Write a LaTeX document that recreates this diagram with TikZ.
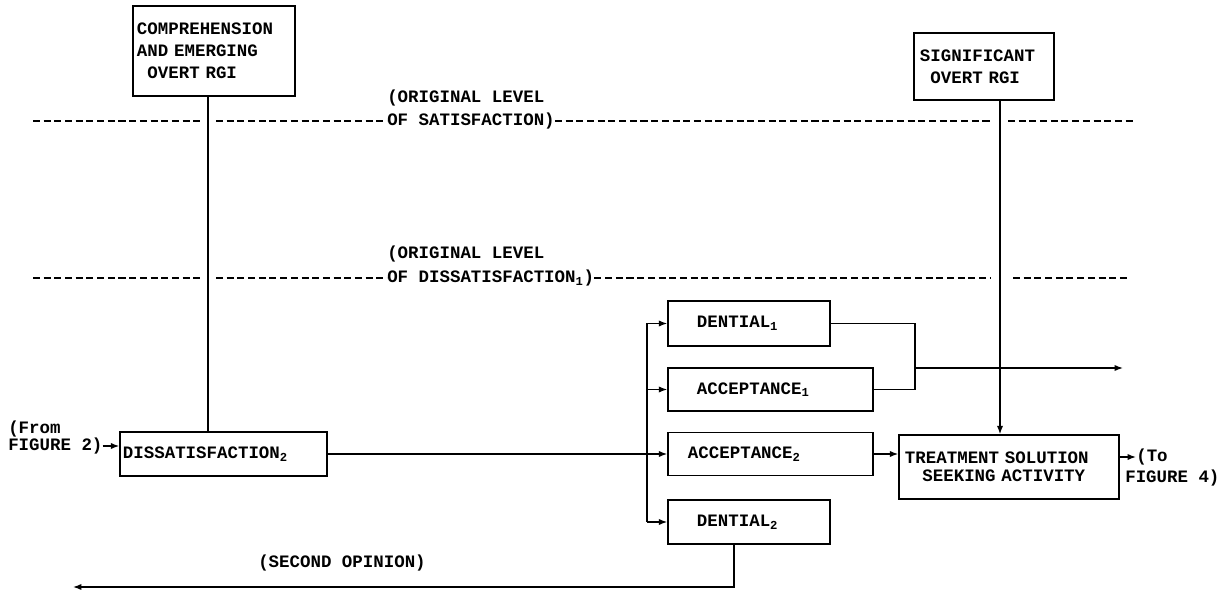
\documentclass[tikz,border=0pt]{standalone}
\usepackage{fontspec}
\setmainfont{Liberation Mono}
\usetikzlibrary{arrows.meta}
\newcommand{\tyfont}[1]{\bfseries\fontsize{12.4}{#1}\selectfont
    \fontdimen2\font=0.6em\fontdimen3\font=0pt\fontdimen4\font=0pt}

\begin{document}
\begin{tikzpicture}[x=0.025cm,y=-0.025cm]
    \tikzstyle{every node}+=[inner sep=0pt, font=\tyfont{15.6}]
    \tikzstyle{stage}=[draw=black, line width=1pt, align=left, inner ysep=0pt]
    \tikzstyle{level}=[black, line width=1pt, dash pattern=on 5pt off 2.6pt]
    \tikzstyle{wire}=[black, line width=1pt]
    \tikzstyle{flow}=[black, line width=1pt, -{Latex[length=6pt,width=4.5pt]}]
    \useasboundingbox (0,0) rectangle (1223,590);
    \node [stage, text width=3.85cm, inner xsep=0.1cm, minimum height=2.25cm] (compbox) at (214,51)
        {COMPREHENSION\\AND EMERGING\\\hspace*{0.6em}OVERT RGI};
    \node [stage, text width=3.2cm, inner xsep=0.15cm, minimum height=1.675cm] (sigbox) at (984,66.5)
        {SIGNIFICANT\\\hspace*{0.6em}OVERT RGI};
    \node [stage, text width=5.025cm, inner xsep=0.075cm, minimum height=1.1cm] (dissat) at (223.5,454)
        {DISSATISFACTION\textsubscript{2}};
    \node [stage, text width=2.6cm, inner xsep=0.725cm, minimum height=1.125cm] (den1) at (749,323.5)
        {DENTIAL\textsubscript{1}};
    \node [stage, text width=3.675cm, inner xsep=0.725cm, minimum height=1.075cm] (acc1) at (770.5,389.5)
        {ACCEPTANCE\textsubscript{1}};
    \node [stage, text width=4.125cm, inner xsep=0.5cm, minimum height=1.075cm] (acc2) at (770.5,454)
        {ACCEPTANCE\textsubscript{2}};
    \node [stage, text width=2.6cm, inner xsep=0.725cm, minimum height=1.1cm] (den2) at (749,522)
        {DENTIAL\textsubscript{2}};
    \node [stage, text width=5.2cm, inner xsep=0.15cm, minimum height=1.6cm,
        font=\tyfont{12.6}] (treat) at (1009,467)
        {TREATMENT SOLUTION\\\hspace*{1em}SEEKING ACTIVITY};
    \node [anchor=west] (sat1) at (387,98) {(ORIGINAL LEVEL};
    \node [anchor=west] (sat2) at (387,121) {OF SATISFACTION)};
    \node [anchor=west] (dis1) at (387,254) {(ORIGINAL LEVEL};
    \node [anchor=west] (dis2) at (387,278) {OF DISSATISFACTION\textsubscript{1})};
    \node [anchor=west] (from1) at (8,429) {(From};
    \node [anchor=west] (from2) at (8,446) {FIGURE 2)};
    \node [anchor=west] (to1) at (1136,457) {(To};
    \node [anchor=west] (to2) at (1125,478) {FIGURE 4)};
    \node [anchor=west] (second) at (258,563) {(SECOND OPINION)};
    \coordinate (compline) at (208,0);
    \coordinate (sigline) at (1000,0);
    \coordinate (fork) at (647,454);
    \coordinate (merge) at (915,368);
    \coordinate (onward) at (1123,368);
    \coordinate (opinion) at (73,587);
    \draw [level] (33,121) -- (200,121);
    \draw [level] (216,121) -- (sat2.west);
    \draw [level] (sat2.east) -- (993,121);
    \draw [level] (1008,121) -- (1133,121);
    \draw [level] (33,278) -- (200,278);
    \draw [level] (216,278) -- (dis2.west);
    \draw [level] (dis2.east) -- (990,278);
    \draw [level] (1013,278) -- (1128,278);
    \draw [wire] (compbox.south -| compline) -- (dissat.north -| compline);
    \draw [flow] (from2.east) -- (from2.east -| dissat.west);
    \draw [flow] (dissat.east) -- (acc2.west);
    \draw [wire] (fork |- den1.west) -- (fork |- den2.west);
    \foreach \b in {den1,acc1,den2}
        \draw [flow] (fork |- \b.west) -- (\b.west);
    \draw [wire, line width=1.4pt] (den1.east) -| (merge) |- (acc1.east);
    \draw [flow] (merge) -- (onward);
    \draw [flow] (acc2.east) -- (acc2.east -| treat.west);
    \draw [flow] (sigbox.south -| sigline) -- (treat.north -| sigline);
    \draw [flow] (treat.east |- to1.west) -- (to1.west);
    \draw [flow] ([xshift=-0.375cm]den2.south) |- (opinion);
\end{tikzpicture}
\end{document}
